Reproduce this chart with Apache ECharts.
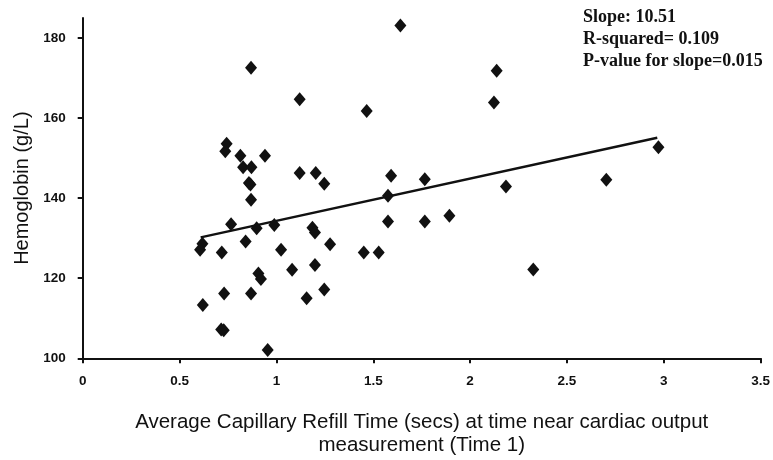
<!DOCTYPE html>
<html><head><meta charset="utf-8">
<script src="https://cdn.jsdelivr.net/npm/echarts@6/dist/echarts.min.js"></script>
<style>html,body{margin:0;padding:0;background:#fff}#c{width:773px;height:460px}</style>
</head><body><div id="c"></div>
<script>
// Scatter data: capillary refill time (s) vs hemoglobin (g/L)
const crtX = [0.869,1.120,0.743,0.736,0.814,0.941,0.828,0.871,1.120,1.203,0.858,0.866,0.869,0.766,0.898,0.989,1.186,1.199,0.618,0.606,0.718,0.841,1.024,0.907,0.920,1.081,1.199,0.730,0.869,1.156,0.620,0.715,0.728,0.955,1.640,2.137,2.123,1.466,1.247,1.592,1.766,2.185,1.576,1.576,1.766,1.893,1.277,1.451,1.528,1.247,2.326,2.972,2.703];
const hgbY = [172.6,164.7,153.6,151.7,150.6,150.6,147.7,147.7,146.3,146.3,143.8,143.4,139.6,133.5,132.5,133.3,132.6,131.4,128.6,127.1,126.4,129.2,127.1,121.2,119.8,122.1,123.3,116.2,116.2,115.0,113.3,107.2,107.0,102.1,183.1,171.8,163.9,161.8,143.6,145.6,144.7,142.9,140.6,134.2,134.2,135.6,128.5,126.4,126.4,117.2,122.2,152.7,144.6];
// Fitted regression line endpoints
const trendX = [0.609, 2.966];
const trendY = [130.2, 155.1];
const xTicks = [0,0.5,1,1.5,2,2.5,3,3.5];
const yTicks = [100,120,140,160,180];
const statsLines = ['Slope: 10.51','R-squared= 0.109','P-value for slope=0.015'];
const xTitle = 'Average Capillary Refill Time (secs) at time near cardiac output\nmeasurement (Time 1)';
const yTitle = 'Hemoglobin (g/L)';

const chart = echarts.init(document.getElementById('c'), null, {renderer:'canvas'});
const axisLine = {show:true, lineStyle:{color:'#111', width:2}};
chart.setOption({
  animation:false,
  backgroundColor:'#fff',
  grid:{left:82.7, right:12.3, top:18, bottom:101.7, containLabel:false, outerBoundsMode:'none'},
  xAxis:{
    type:'value', min:0, max:3.5, interval:0.5,
    axisLine:axisLine,
    axisTick:{show:true, inside:false, length:5, lineStyle:{color:'#111', width:2}, customValues:xTicks},
    axisLabel:{customValues:xTicks, margin:16, color:'#111', fontFamily:'Liberation Sans', fontWeight:'bold', fontSize:13.5,
      formatter:v=>String(v)},
    splitLine:{show:false},
    name:xTitle, nameLocation:'middle', nameGap:53,
    nameTextStyle:{fontFamily:'Liberation Sans', fontSize:20.5, color:'#111', lineHeight:23}
  },
  yAxis:{
    type:'value', min:100, max:185, interval:20,
    axisLine:axisLine,
    axisTick:{show:true, inside:false, length:5, lineStyle:{color:'#111', width:2}, customValues:yTicks},
    axisLabel:{customValues:yTicks, margin:17, color:'#111', fontFamily:'Liberation Sans', fontWeight:'bold', fontSize:13.5},
    splitLine:{show:false},
    name:yTitle, nameLocation:'middle', nameGap:50,
    nameTextStyle:{fontFamily:'Liberation Sans', fontSize:20, color:'#111'}
  },
  graphic:[{
    type:'text', left:583, top:6,
    style:{text:statsLines.join('\n'), fontFamily:'Liberation Serif', fontWeight:'bold', fontSize:18, lineHeight:22, fill:'#111'}
  }],
  series:[
    {type:'scatter', data:crtX.map((x,i)=>[x,hgbY[i]]), symbol:'diamond', symbolSize:[12,14],
     itemStyle:{color:'#111', opacity:1}, z:3},
    {type:'line', data:trendX.map((x,i)=>[x,trendY[i]]), symbol:'none',
     lineStyle:{color:'#111', width:2.5}, z:2}
  ]
});
</script></body></html>
